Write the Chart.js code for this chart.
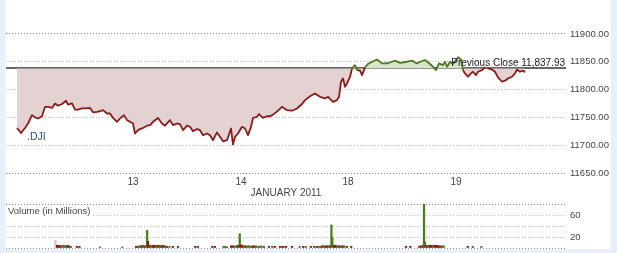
<!DOCTYPE html>
<html>
<head>
<meta charset="utf-8">
<script src="https://cdn.jsdelivr.net/npm/chart.js@4/dist/chart.umd.min.js"></script>
<style>
  html, body { margin: 0; padding: 0; }
  body { width: 617px; height: 253px; background: #e6f0fa; position: relative; overflow: hidden; }
  #panel { position: absolute; left: 5px; top: 0; width: 606px; height: 249px; background: #fff; }
  #priceWrap { position: absolute; left: 0; top: 0; width: 606px; height: 200px; }
  #volWrap { position: absolute; left: 0; top: 200px; width: 606px; height: 49px; }
</style>
</head>
<body>
<div id="panel">
  <div id="priceWrap"><canvas id="priceChart"></canvas></div>
  <div id="volWrap"><canvas id="volChart"></canvas></div>
</div>
<script>
// .DJI intraday, Jan 12 - Jan 19 2011 (time in chart minutes-ish units from first print)
const prevClose = 11837.93;

const priceTimes = [
  0, 4, 8, 11, 15, 18, 21, 25, 28, 31, 35, 38, 41, 45, 49, 51, 55, 58, 61, 65,
  68, 73, 76, 80, 83, 86, 90, 93, 96, 100, 103, 107, 110, 113, 116, 118, 121, 126, 130, 133,
  136, 141, 145, 148, 153, 156, 160, 163, 166, 170, 173, 176, 180, 183, 186, 190, 193, 196, 200, 203,
  206, 210, 214, 216, 218, 221, 225, 228, 231, 234, 236, 240, 242, 246, 250, 253, 256, 261, 265, 270,
  275, 280, 285, 288, 293, 298, 303, 308, 311, 316, 320, 322, 324, 326, 328, 330, 333, 335, 338, 340,
  343, 345, 348, 351, 355, 360, 365, 370, 375, 378, 383, 390, 395, 400, 403, 408, 413, 416, 419, 422,
  426, 428, 430, 433, 436, 439, 441, 444, 446, 448, 451, 454, 456, 459, 461, 465, 468, 471, 475, 478,
  481, 485, 488, 491, 495, 498, 500, 503, 506, 508
];
const priceValues = [
  11731, 11722, 11731, 11739, 11754, 11750, 11748, 11752, 11769, 11769, 11767, 11775, 11771, 11774, 11780, 11773, 11775, 11764, 11764, 11766,
  11766, 11767, 11759, 11760, 11761, 11763, 11757, 11757, 11749, 11742, 11748, 11754, 11745, 11742, 11739, 11721, 11727, 11731, 11735, 11736,
  11742, 11749, 11739, 11735, 11745, 11736, 11739, 11738, 11727, 11735, 11733, 11725, 11729, 11727, 11718, 11721, 11718, 11709, 11723, 11715,
  11707, 11709, 11730, 11701, 11715, 11721, 11733, 11730, 11718, 11733, 11749, 11751, 11756, 11749, 11752, 11752, 11755, 11762, 11769, 11763,
  11762, 11766, 11774, 11781, 11788, 11793, 11787, 11784, 11787, 11778, 11781, 11787, 11814, 11820, 11805, 11811, 11823, 11838, 11844, 11835,
  11834, 11826, 11840, 11846, 11850, 11854, 11847, 11847, 11850, 11852, 11848, 11850, 11852, 11847, 11850, 11853, 11846, 11841, 11835, 11847,
  11844, 11850, 11841, 11850, 11846, 11853, 11858, 11854, 11835, 11829, 11823, 11829, 11832, 11826, 11832, 11835, 11840, 11838, 11836, 11832,
  11822, 11814, 11816, 11820, 11823, 11829, 11836, 11832, 11834, 11831
];

const priceTicks = [11650, 11700, 11750, 11800, 11850, 11900];
const dayTicks = [116, 224, 331, 439];
const dayLabels = ["13", "14", "18", "19"];

// volume (millions): time, size, side (1 up, -1 down, 0 neutral)
const volTimes = [
  0, 2, 4, 6, 8, 10, 12, 14, 16, 18, 25, 28, 52, 78, 94, 96, 98,
  100, 102, 104, 106, 107, 108, 110, 112, 114, 116, 118, 120, 122, 124, 126, 128, 130,
  133, 137, 143, 163, 166, 183, 186, 196, 198, 200,
  205, 207, 209, 211, 213, 215, 216, 218, 220, 222, 224, 226, 228, 230, 232, 234, 236, 238, 240, 243,
  249, 253, 256, 262, 264, 266, 269, 276, 285, 289, 292, 298, 302, 305, 307, 309,
  311, 313, 315, 317, 319, 321, 322, 323, 325, 327, 329, 331, 333, 335, 337, 340, 345,
  409, 414, 424, 426, 428, 429, 430, 431, 433, 435, 437, 439, 441, 443, 445, 447, 449, 451, 453,
  481, 487, 497
];
const volValues = [
  14, 5, 5, 4, 5, 5, 4, 5, 4, 3, 3, 3, 2, 2, 3, 3, 4,
  4, 5, 4, 5, 32, 12, 5, 5, 5, 5, 5, 5, 5, 4, 5, 4, 3,
  3, 3, 3, 3, 3, 3, 3, 3, 3, 2,
  4, 4, 4, 4, 5, 26, 6, 5, 4, 4, 4, 4, 3, 4, 4, 4, 3, 3, 4, 3,
  3, 3, 3, 3, 3, 3, 3, 3, 3, 3, 3, 3, 3, 3, 3, 3,
  4, 4, 4, 4, 4, 5, 42, 19, 5, 5, 4, 4, 4, 4, 4, 3, 3,
  3, 3, 3, 4, 4, 5, 80, 11, 5, 5, 5, 5, 5, 5, 5, 4, 4, 4, 4,
  3, 3, 3
];
const volSides = [
  0, -1, -1, -1, 1, 1, 1, -1, -1, 1, -1, -1, 1, 1, -1, -1, 1,
  -1, 1, -1, 1, 1, -1, -1, 1, -1, -1, 1, -1, 1, -1, -1, 1, -1,
  1, -1, -1, -1, -1, -1, -1, 1, 1, -1,
  -1, -1, 1, 1, -1, 1, -1, -1, 1, -1, 1, 1, 1, -1, -1, 1, 1, 1, 1, -1,
  -1, 1, -1, -1, 1, -1, -1, -1, 1, -1, 1, -1, -1, -1, 1, 1,
  -1, 1, -1, -1, 1, -1, 1, 1, -1, -1, 1, -1, 1, -1, 1, -1, -1,
  -1, -1, 1, -1, 1, -1, 1, 1, -1, 1, -1, -1, 1, -1, -1, -1, -1, 1, 1,
  -1, 1, 1
];
const volTicks = [0, 20, 40, 60, 80];
const volLabelled = [20, 60];

const X_MIN = -11, X_MAX = 549;
const FONT = "'Liberation Sans', Arial, sans-serif";
const TXT = "#444";
const UP_LINE = "#4b7a1f", DOWN_LINE = "#8b1c1c";
const UP_FILL = "#d8e4cc", DOWN_FILL = "#e4d1d2";
const GRID_DARK = "#8a8a8a", GRID_LIGHT = "#bdbdbd";

function tightAxis(width, height) {
  return function(scale) {
    if (width != null) scale.width = width;
    if (height != null) scale.height = height;
    scale.paddingTop = 0; scale.paddingBottom = 0;
    scale.paddingLeft = 0; scale.paddingRight = 0;
  };
}

// previous close line + labels
const priceOverlay = {
  id: "priceOverlay",
  beforeDatasetsDraw(chart) {
    const {ctx, chartArea, scales} = chart;
    const y = Math.round(scales.y.getPixelForValue(prevClose));
    ctx.save();
    ctx.strokeStyle = "#666";
    ctx.lineWidth = 2;
    ctx.beginPath();
    ctx.moveTo(chartArea.left, y);
    ctx.lineTo(chartArea.right, y);
    ctx.stroke();
    ctx.restore();
  },
  afterDatasetsDraw(chart) {
    const {ctx, chartArea, scales} = chart;
    const y = scales.y.getPixelForValue(prevClose);
    ctx.save();
    ctx.font = "10px " + FONT;
    ctx.fillStyle = "#222";
    ctx.textAlign = "right";
    ctx.textBaseline = "alphabetic";
    ctx.fillText("Previous Close " + prevClose.toLocaleString("en-US", {minimumFractionDigits: 2}), chartArea.right - 1, y - 2);
    ctx.font = "10.5px " + FONT;
    ctx.fillStyle = "#1d4f8e";
    ctx.textAlign = "left";
    ctx.textBaseline = "middle";
    ctx.fillText(".DJI", chartArea.left + 21, 137);
    ctx.restore();
  }
};

new Chart(document.getElementById("priceChart"), {
  type: "line",
  data: {
    datasets: [{
      data: priceTimes.map((t, i) => ({x: t, y: priceValues[i]})),
      borderWidth: 1.8,
      pointRadius: 0,
      tension: 0,
      borderJoinStyle: "round",
      borderColor: DOWN_LINE,
      segment: {
        borderColor: c => ((c.p0.parsed.y + c.p1.parsed.y) / 2 >= prevClose ? UP_LINE : DOWN_LINE)
      },
      fill: {target: {value: prevClose}, above: UP_FILL, below: DOWN_FILL}
    }]
  },
  options: {
    responsive: true,
    maintainAspectRatio: false,
    animation: false,
    layout: {padding: {left: 1, top: 0, right: 0, bottom: 0}},
    plugins: {legend: {display: false}, tooltip: {enabled: false}},
    scales: {
      x: {
        type: "linear",
        min: X_MIN, max: X_MAX,
        grid: {display: false, drawTicks: false},
        border: {display: false},
        afterBuildTicks: s => { s.ticks = dayTicks.map(v => ({value: v})); },
        afterFit: tightAxis(null, 27),
        ticks: {
          autoSkip: false, maxRotation: 0, padding: 3, color: TXT,
          font: {family: FONT, size: 10},
          callback: (v, i) => dayLabels[i]
        },
        title: {display: true, text: "JANUARY 2011", color: TXT, font: {family: FONT, size: 10}, padding: {top: 0, bottom: 1}}
      },
      y: {
        position: "right",
        min: 11650, max: 11961,
        afterBuildTicks: s => { s.ticks = priceTicks.map(v => ({value: v})); },
        afterFit: tightAxis(45, null),
        grid: {
          drawTicks: false,
          color: c => (c.tick && (c.tick.value === 11900 || c.tick.value === 11650) ? GRID_DARK : GRID_LIGHT)
        },
        border: {display: false, dash: [1, 2]},
        ticks: {
          autoSkip: false, padding: 4, color: TXT, font: {family: FONT, size: 9.5},
          callback: v => v.toFixed(2)
        }
      }
    }
  },
  plugins: [priceOverlay]
});

const volOverlay = {
  id: "volOverlay",
  beforeDatasetsDraw(chart) {
    const {ctx, chartArea} = chart;
    ctx.save();
    ctx.font = "9.5px " + FONT;
    const label = "Volume (in Millions)";
    const w = ctx.measureText(label).width;
    ctx.fillStyle = "#fff";
    ctx.fillRect(chartArea.left, chartArea.top + 2, w + 4, 11);
    ctx.fillStyle = TXT;
    ctx.textBaseline = "middle";
    ctx.fillText(label, chartArea.left + 2, 11);
    ctx.restore();
  }
};

new Chart(document.getElementById("volChart"), {
  type: "bar",
  data: {
    datasets: [{
      data: volTimes.map((t, i) => ({x: t, y: volValues[i]})),
      backgroundColor: volSides.map(s => (s > 0 ? UP_LINE : s < 0 ? DOWN_LINE : "#c8c8c8")),
      barThickness: 1.6,
      borderWidth: 0
    }]
  },
  options: {
    responsive: true,
    maintainAspectRatio: false,
    animation: false,
    layout: {padding: {left: 1, top: 4, right: 0, bottom: 1}},
    plugins: {legend: {display: false}, tooltip: {enabled: false}},
    scales: {
      x: {
        type: "linear",
        min: X_MIN, max: X_MAX,
        display: false
      },
      y: {
        position: "right",
        min: 0, max: 80,
        afterBuildTicks: s => { s.ticks = volTicks.map(v => ({value: v})); },
        afterFit: tightAxis(45, null),
        grid: {
          drawTicks: false,
          color: c => (c.tick && (c.tick.value === 0 || c.tick.value === 80) ? GRID_DARK : GRID_LIGHT)
        },
        border: {display: false, dash: [1, 2]},
        ticks: {
          autoSkip: false, padding: 4, color: TXT, font: {family: FONT, size: 9.5},
          callback: v => (volLabelled.includes(v) ? String(v) : "")
        }
      }
    }
  },
  plugins: [volOverlay]
});
</script>
</body>
</html>
